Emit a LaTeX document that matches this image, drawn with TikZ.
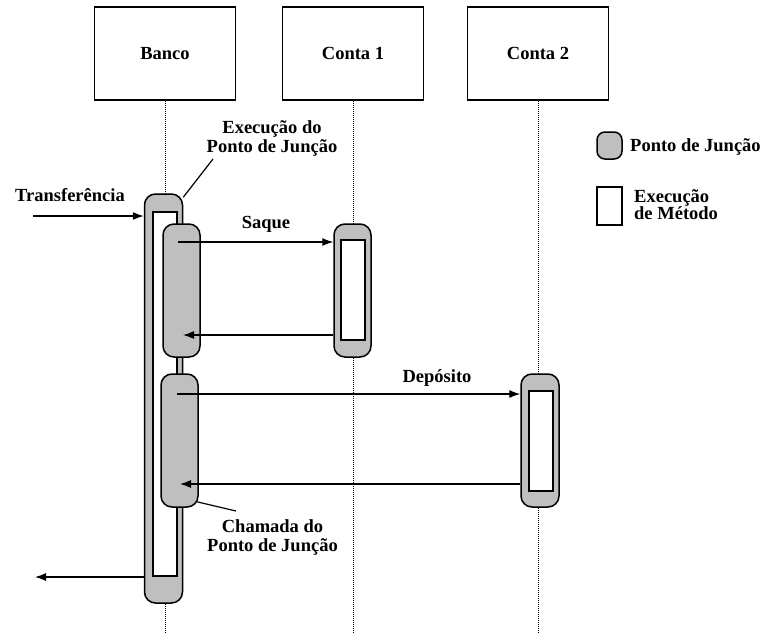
\documentclass[tikz,border=0pt]{standalone}
\usepackage{fontspec}
\setmainfont{Liberation Serif}
\usetikzlibrary{arrows.meta}
\begin{document}
\begin{tikzpicture}[x=1pt,y=-1pt,
  every node/.style={font=\fontsize{18.5}{19}\selectfont\bfseries, inner sep=0pt},
  objbox/.style={draw, line width=1.6pt, minimum width=141pt, minimum height=93pt},
  jp/.style={draw, line width=1.5pt, fill=gray!50, rounded corners=11pt},
  ex/.style={draw, line width=1.5pt, fill=white},
  life/.style={densely dotted, line width=1pt},
  arr/.style={line width=1.2pt, -{Latex[length=11pt,width=8pt]}},
  callout/.style={line width=1.2pt},
  lbl/.style={align=center}]
\useasboundingbox (0,0) rectangle (765,632);
% objects
\node[objbox] (bb) at (165,53.5) {Banco};
\node[objbox] (c1b) at (353,53.5) {Conta 1};
\node[objbox] (c2b) at (538,53.5) {Conta 2};
% activations
\node[jp, minimum width=38pt, minimum height=409pt] (bo) at (163.5,398.5) {};
\node[ex, minimum width=24pt, minimum height=364pt] (bi) at (165,394) {};
\node[jp, minimum width=37pt, minimum height=133pt] (j1) at (181.5,290.5) {};
\node[jp, minimum width=37pt, minimum height=133pt] (j2) at (179.5,440.5) {};
\node[jp, minimum width=37pt, minimum height=133pt] (c1) at (352.5,290.5) {};
\node[ex, minimum width=24pt, minimum height=100pt] (c1i) at (353,290) {};
\node[jp, minimum width=38pt, minimum height=133pt] (c2) at (540,440.5) {};
\node[ex, minimum width=24pt, minimum height=100pt] (c2i) at (541,441) {};
% lifelines
\coordinate (e1) at (166,632);
\coordinate (e2) at (352,632);
\coordinate (e3) at (537,632);
\draw[life] (bb.south) -- (bb.south |- bo.north);
\draw[life] (bb.south |- bo.south) -- (bb.south |- e1);
\draw[life] (c1b.south) -- (c1b.south |- c1.north);
\draw[life] (c1b.south |- c1.south) -- (c1b.south |- e2);
\draw[life] (c2b.south) -- (c2b.south |- c2.north);
\draw[life] (c2b.south |- c2.south) -- (c2b.south |- e3);
% messages
\draw[arr] ([xshift=-3.5pt,yshift=48.5pt]j1.center) -- ([yshift=48.5pt]c1.west);
\draw[arr] ([yshift=-44.5pt]c1.west) -- ([xshift=1.5pt,yshift=-44.5pt]j1.center);
\draw[arr] ([xshift=-2.5pt,yshift=46.5pt]j2.center) -- ([yshift=46.5pt]c2.west);
\draw[arr] ([yshift=-43.5pt]c2.west) -- ([xshift=0.5pt,yshift=-43.5pt]j2.center);
\coordinate (tin) at (33,216);
\coordinate (tout) at (35,577);
\draw[arr] (tin) -- ([yshift=182.5pt]bo.west);
\draw[arr] ([yshift=-178.5pt]bo.west) -- (tout);
% labels
\node (saque) at (266,224) {Saque};
\node (dep) at (437,378) {Depósito};
\node (transf) at (70,195) {Transferência};
\node[lbl] (exjp) at (272,138) {Execução do\\Ponto de Junção};
\node[lbl] (chjp) at (272.5,537) {Chamada do\\Ponto de Junção};
\coordinate (ce1) at (213,159);
\coordinate (ce2) at (236,511);
\draw[callout] ([yshift=-4pt]bo.north east) -- (ce1);
\draw[callout] ([xshift=-2pt,yshift=6pt]j2.south east) -- (ce2);
% legend
\node[jp, rounded corners=8pt, minimum width=25pt, minimum height=27pt] (lg1) at (609.5,145.5) {};
\node[ex, minimum width=25pt, minimum height=38pt] (lg2) at (609.5,206) {};
\node[anchor=west] (lt1) at (630,147) {Ponto de Junção};
\node[anchor=west, align=left, font=\fontsize{18.5}{17}\selectfont\bfseries] (lt2) at (634,205) {Execução\\de Método};
\end{tikzpicture}
\end{document}
